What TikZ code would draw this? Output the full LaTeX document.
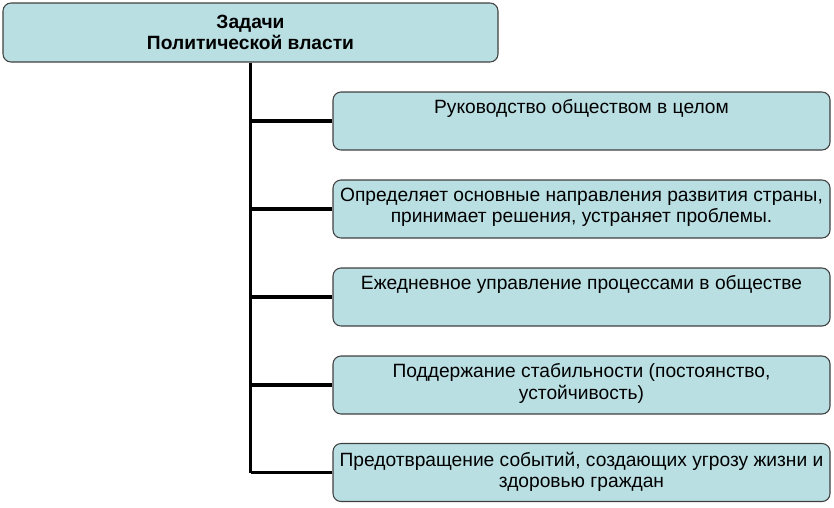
\documentclass[tikz,border=0pt]{standalone}
\usepackage{fontspec}
\setmainfont{Liberation Sans}
\definecolor{boxfill}{RGB}{185,223,227}
\definecolor{boxedge}{RGB}{64,64,64}
\begin{document}
\begin{tikzpicture}[x=0.75pt,y=-0.75pt,
  box/.style={draw=boxedge,line width=0.8pt,fill=boxfill,rounded corners=6pt,inner sep=0pt},
  childbox/.style={box,minimum width=372.75pt,minimum height=43.5pt},
  txt/.style={inner sep=0pt,align=center,font=\fontsize{14.4}{16}\selectfont},
  conn/.style={line width=2.3pt,black}]
\useasboundingbox (0,0) rectangle (834,507);
\node[box,minimum width=371.25pt,minimum height=44.25pt,txt,inner sep=0pt] (top) at (250.5,32.5)
  {\bfseries Задачи\\\bfseries Политической власти};
\node[childbox] (c1) at (581.5,121) {};
\node[childbox] (c2) at (581.5,209) {};
\node[childbox] (c3) at (581.5,297) {};
\node[childbox] (c4) at (581.5,385) {};
\node[childbox] (c5) at (581.5,472.5) {};
\node[txt,anchor=north] (t1) at (581.5,99.5) {Руководство обществом в целом};
\node[txt,anchor=north] (t2) at (581.5,187.5) {Определяет основные направления развития страны,\\принимает решения, устраняет проблемы.};
\node[txt,anchor=north] (t3) at (581.5,275.5) {Ежедневное управление процессами в обществе};
\node[txt,anchor=north] (t4) at (581.5,363.5) {Поддержание стабильности (постоянство,\\устойчивость)};
\node[txt,anchor=north] (t5) at (581.5,451.5) {Предотвращение событий, создающих угрозу жизни и\\здоровью граждан};
\draw[conn] (top.south) -- (top.south |- c5.west);
\foreach \c in {c1,c2,c3,c4,c5}
  \draw[conn] (top.south |- \c.west) -- (\c.west);
\end{tikzpicture}
\end{document}
